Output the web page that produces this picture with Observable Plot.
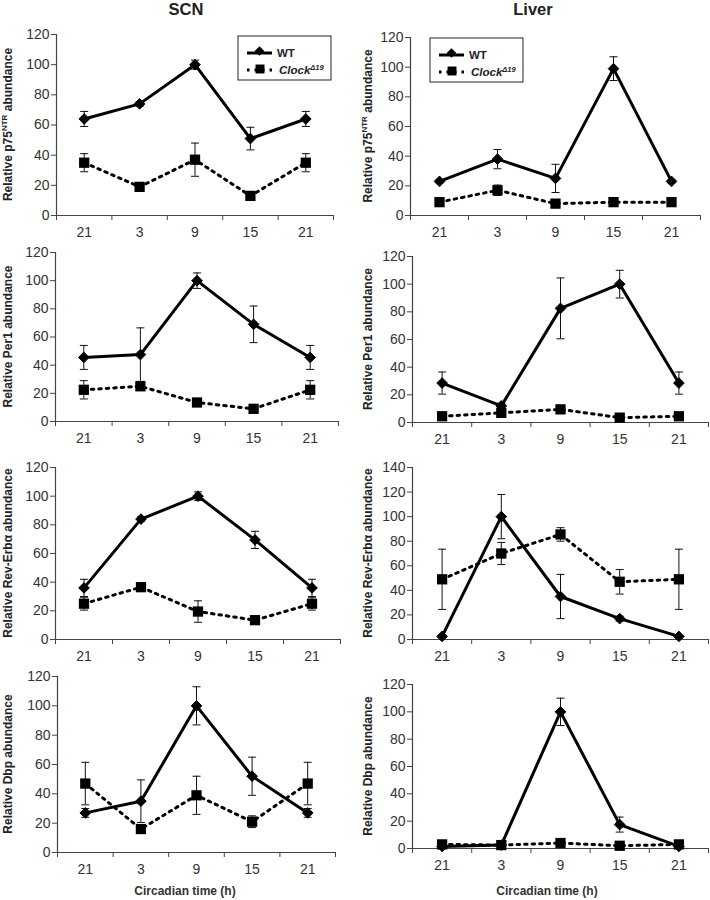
<!DOCTYPE html>
<html><head><meta charset="utf-8">
<script src="https://cdn.jsdelivr.net/npm/d3@7"></script>
<script src="https://cdn.jsdelivr.net/npm/@observablehq/plot@0.6"></script>
<style>
body{margin:0;background:#fff;}
#page{position:relative;width:710px;height:900px;overflow:hidden;font-family:"Liberation Sans",Arial,sans-serif;}
#page svg{position:absolute;}
</style></head><body><div id="page"></div>
<script>
// ---- data ----
const hours = ["21", "3", "9", "15", "21"];

const scnP75WT = [64, 74, 100, 51, 64];
const scnP75WTErr = [5, 1.5, 3, 7.5, 5];
const scnP75Clock = [35, 19, 37, 13, 35];
const scnP75ClockErr = [6, 1.5, 11, 1.5, 6];

const liverP75WT = [23, 38, 25, 99, 23];
const liverP75WTErr = [1, 6.5, 9.5, 8, 1];
const liverP75Clock = [9, 17, 8, 9, 9];
const liverP75ClockErr = [1, 3.5, 1, 1, 1];

const scnPer1WT = [45.5, 47.5, 100, 69, 45.5];
const scnPer1WTErr = [8.5, 19, 5.5, 13, 8.5];
const scnPer1Clock = [22.5, 25, 13.5, 9, 22.5];
const scnPer1ClockErr = [6.5, 3, 2, 1, 6.5];

const liverPer1WT = [28.5, 12, 82.5, 100, 28.5];
const liverPer1WTErr = [8, 2, 22, 10, 8];
const liverPer1Clock = [4.5, 7, 9.5, 3.5, 4.5];
const liverPer1ClockErr = [1, 1, 1.5, 0.5, 1];

const scnRevWT = [36, 84, 100, 69.5, 36];
const scnRevWTErr = [6, 1.5, 3, 6, 6];
const scnRevClock = [25, 36.5, 19.5, 13.5, 25];
const scnRevClockErr = [4.5, 1.5, 7.5, 1, 4.5];

const liverRevWT = [2.5, 100, 35, 17, 2.5];
const liverRevWTErr = [0.5, 18, 18, 2, 0.5];
const liverRevClock = [49, 70, 85.5, 47, 49];
const liverRevClockErr = [24.5, 9, 5.5, 10, 24.5];

const scnDbpWT = [27, 35, 100, 52, 27];
const scnDbpWTErr = [3, 14.5, 13, 13, 3];
const scnDbpClock = [47, 16, 39, 21, 47];
const scnDbpClockErr = [14.5, 1.5, 13, 4, 14.5];

const liverDbpWT = [1.5, 2.5, 100, 17.5, 1.5];
const liverDbpWTErr = [0.5, 0.5, 10, 5.5, 0.5];
const liverDbpClock = [3, 2.5, 4, 2, 3];
const liverDbpClockErr = [0.5, 0.5, 0.5, 0.5, 0.5];

const yTicks120 = [0, 20, 40, 60, 80, 100, 120];
const yTicks140 = [0, 20, 40, 60, 80, 100, 120, 140];

// ---- layout ----
const panels = [
  {wt: scnP75WT, wtErr: scnP75WTErr, ck: scnP75Clock, ckErr: scnP75ClockErr, ticks: yTicks120,
   frame: [56, 333, 34, 215], box: [0, 20, 352, 225], col: 0, label: ["Relative p75", "NTR", " abundance"], legend: [238, 36]},
  {wt: liverP75WT, wtErr: liverP75WTErr, ck: liverP75Clock, ckErr: liverP75ClockErr, ticks: yTicks120,
   frame: [410, 700, 37, 215], box: [352, 20, 358, 225], col: 1, label: ["Relative p75", "NTR", " abundance"], legend: [430, 38]},
  {wt: scnPer1WT, wtErr: scnPer1WTErr, ck: scnPer1Clock, ckErr: scnPer1ClockErr, ticks: yTicks120,
   frame: [55, 338, 252, 421], box: [0, 245, 352, 207], col: 0, label: ["Relative Per1 abundance"]},
  {wt: liverPer1WT, wtErr: liverPer1WTErr, ck: liverPer1Clock, ckErr: liverPer1ClockErr, ticks: yTicks120,
   frame: [412, 708, 256, 422], box: [352, 245, 358, 207], col: 1, label: ["Relative Per1 abundance"]},
  {wt: scnRevWT, wtErr: scnRevWTErr, ck: scnRevClock, ckErr: scnRevClockErr, ticks: yTicks120,
   frame: [55, 340, 467, 639], box: [0, 452, 352, 213], col: 0, label: ["Relative Rev-Erbα abundance"]},
  {wt: liverRevWT, wtErr: liverRevWTErr, ck: liverRevClock, ckErr: liverRevClockErr, ticks: yTicks140,
   frame: [412, 708, 467, 639], box: [352, 452, 358, 213], col: 1, label: ["Relative Rev-Erbα abundance"]},
  {wt: scnDbpWT, wtErr: scnDbpWTErr, ck: scnDbpClock, ckErr: scnDbpClockErr, ticks: yTicks120,
   frame: [57, 335, 676, 852], box: [0, 665, 352, 235], col: 0, label: ["Relative Dbp abundance"]},
  {wt: liverDbpWT, wtErr: liverDbpWTErr, ck: liverDbpClock, ckErr: liverDbpClockErr, ticks: yTicks120,
   frame: [412, 708, 684, 848], box: [352, 665, 358, 235], col: 1, label: ["Relative Dbp abundance"]}
];

const page = document.getElementById("page");
const FONT = '"Liberation Sans", Arial, sans-serif';
const AX = "#444";

panels.forEach(p => {
  const [ax0, ax1, yT, y0] = p.frame;
  const [sl, st, sw, sh] = p.box;
  const rows = hours.map((h, i) => ({i, wt: p.wt[i], wtErr: p.wtErr[i], ck: p.ck[i], ckErr: p.ckErr[i]}));
  const cap = 4 / ((ax1 - ax0) / 5);
  const yMax = p.ticks[p.ticks.length - 1];
  const errMarks = (v, e) => [
    Plot.ruleX(rows, {x: "i", y1: d => d[v] - d[e], y2: d => d[v] + d[e], stroke: "#111", strokeWidth: 1}),
    Plot.link(rows, {x1: d => d.i - cap, x2: d => d.i + cap, y1: d => d[v] + d[e], y2: d => d[v] + d[e], stroke: "#111", strokeWidth: 1}),
    Plot.link(rows, {x1: d => d.i - cap, x2: d => d.i + cap, y1: d => d[v] - d[e], y2: d => d[v] - d[e], stroke: "#111", strokeWidth: 1})
  ];
  const svg = Plot.plot({
    width: sw, height: sh,
    marginLeft: ax0 - sl, marginRight: sl + sw - ax1, marginTop: yT - st, marginBottom: st + sh - y0,
    x: {type: "linear", domain: [-0.5, 4.5], axis: null},
    y: {domain: [0, yMax], axis: null},
    style: {fontFamily: FONT, fontSize: "14px", color: "#333", background: "transparent", overflow: "visible"},
    marks: [
      Plot.axisY({ticks: p.ticks, tickSize: 5, tickPadding: 2, label: null, stroke: AX}),
      Plot.axisX({ticks: [-0.5, 0.5, 1.5, 2.5, 3.5, 4.5], tickSize: 5, tickFormat: () => "", label: null, stroke: AX}),
      Plot.axisX({ticks: [0, 1, 2, 3, 4], tickSize: 0, tickPadding: 12, tickFormat: i => hours[i], label: null}),
      Plot.ruleX([-0.5], {stroke: AX, strokeWidth: 1.2}),
      Plot.ruleY([0], {stroke: AX, strokeWidth: 1.2}),
      ...errMarks("wt", "wtErr"),
      ...errMarks("ck", "ckErr"),
      Plot.line(rows, {x: "i", y: "wt", stroke: "#000", strokeWidth: 3}),
      Plot.line(rows, {x: "i", y: "ck", stroke: "#000", strokeWidth: 3, strokeDasharray: "2.5,5"}),
      Plot.dot(rows, {x: "i", y: "wt", symbol: "diamond2", r: 4.8, fill: "#000", stroke: "#000", strokeWidth: 1}),
      Plot.dot(rows, {x: "i", y: "ck", symbol: "square", r: 5.8, fill: "#000", stroke: "none"})
    ]
  });
  svg.style.left = sl + "px";
  svg.style.top = st + "px";
  page.appendChild(svg);
});

// ---- overlay texts, titles and legends ----
const ov = d3.select(page).append("svg")
  .attr("width", 710).attr("height", 900)
  .style("left", "0px").style("top", "0px")
  .attr("font-family", FONT);

ov.append("text").attr("x", 186).attr("y", 15).attr("text-anchor", "middle")
  .attr("font-weight", "bold").attr("font-size", 16.5).attr("fill", "#222").text("SCN");
ov.append("text").attr("x", 533).attr("y", 15).attr("text-anchor", "middle")
  .attr("font-weight", "bold").attr("font-size", 16.5).attr("fill", "#222").text("Liver");

ov.append("text").attr("x", 185).attr("y", 895).attr("text-anchor", "middle")
  .attr("font-weight", "bold").attr("font-size", 12).attr("fill", "#333").text("Circadian time (h)");
ov.append("text").attr("x", 547).attr("y", 895).attr("text-anchor", "middle")
  .attr("font-weight", "bold").attr("font-size", 12).attr("fill", "#333").text("Circadian time (h)");

panels.forEach(p => {
  const [ax0, ax1, yT, y0] = p.frame;
  const cx = p.col === 0 ? 12 : 372;
  const cy = (yT + y0) / 2;
  const t = ov.append("text")
    .attr("transform", `translate(${cx},${cy}) rotate(-90)`)
    .attr("text-anchor", "middle").attr("font-weight", "bold").attr("font-size", 12).attr("fill", "#222");
  if (p.label.length === 3) {
    t.append("tspan").text(p.label[0]);
    t.append("tspan").attr("font-size", 8).attr("dy", -5).text(p.label[1]);
    t.append("tspan").attr("dy", 5).text(p.label[2]);
  } else {
    t.text(p.label[0]);
  }
  if (p.legend) {
    const [lx, ly] = p.legend;
    const g = ov.append("g").attr("transform", `translate(${lx},${ly})`);
    g.append("rect").attr("x", 0).attr("y", 0).attr("width", 93).attr("height", 44)
      .attr("fill", "#fff").attr("stroke", "#222").attr("stroke-width", 1);
    g.append("line").attr("x1", 9).attr("x2", 34).attr("y1", 17).attr("y2", 17)
      .attr("stroke", "#000").attr("stroke-width", 3);
    g.append("path").attr("transform", "translate(21.5,15)")
      .attr("d", d3.symbol(d3.symbolDiamond2, 60)()).attr("fill", "#000");
    g.append("text").attr("x", 39).attr("y", 21).attr("font-weight", "bold").attr("font-size", 11.5).attr("fill", "#222").text("WT");
    g.append("line").attr("x1", 9).attr("x2", 34).attr("y1", 34).attr("y2", 34)
      .attr("stroke", "#000").attr("stroke-width", 3).attr("stroke-dasharray", "2.5,5");
    g.append("path").attr("transform", "translate(22,33)")
      .attr("d", d3.symbol(d3.symbolSquare, 80)()).attr("fill", "#000");
    const ct = g.append("text").attr("x", 41).attr("y", 38).attr("font-weight", "bold")
      .attr("font-style", "italic").attr("font-size", 11.5).attr("fill", "#222");
    ct.append("tspan").text("Clock");
    ct.append("tspan").attr("font-size", 7.5).attr("dy", -4).text("Δ19");
  }
});
</script>
</body></html>
